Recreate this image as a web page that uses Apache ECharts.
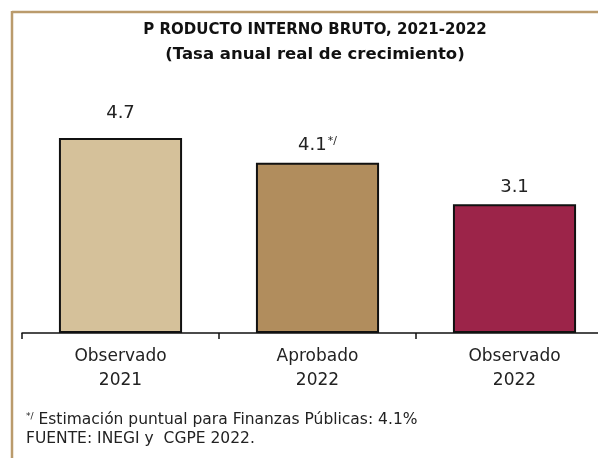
<!DOCTYPE html>
<html><head><meta charset="utf-8">
<script src="https://cdn.jsdelivr.net/npm/echarts@6/dist/echarts.min.js"></script>
<style>html,body{margin:0;padding:0;background:#fff}#c{width:598px;height:458px}</style>
</head><body><div id="c"></div>
<script>
var categories = ['Observado\n2021', 'Aprobado\n2022', 'Observado\n2022'];
var values = [4.7, 4.1, 3.1];
var valueLabels = ['4.7', '4.1', '3.1'];
var labelSuffix = ['', '*/', ''];
var barColors = ['#D5C19A', '#B18D5D', '#9C2449'];
var titleLines = ['P RODUCTO INTERNO BRUTO, 2021-2022', '(Tasa anual real de crecimiento)'];
var notes = ['Estimación puntual para Finanzas Públicas: 4.1%', 'FUENTE: INEGI y  CGPE 2022.'];

var chart = echarts.init(document.getElementById('c'));
var font = 'DejaVu Sans';
chart.setOption({
  animation: false,
  grid: {left: 22, top: 84, width: 591, height: 249, outerBoundsMode: 'none', containLabel: false},
  xAxis: {
    type: 'category', data: categories,
    axisLine: {lineStyle: {color: '#111', width: 1.5}},
    axisTick: {show: true, length: 6, lineStyle: {color: '#111', width: 1.5}},
    axisLabel: {fontFamily: font, fontSize: 17, color: '#222', lineHeight: 24, margin: 12}
  },
  yAxis: {type: 'value', min: 0, max: 6, show: false, splitLine: {show: false}},
  series: [{
    type: 'bar', barWidth: '62.5%',
    data: values.map(function (v, i) {
      return {
        value: v,
        itemStyle: {color: barColors[i], borderColor: '#111', borderWidth: 2},
        label: {
          show: true, position: 'top', distance: i === 0 ? 16 : 8,
          formatter: '{v|' + valueLabels[i] + '}' + (labelSuffix[i] ? '{s|' + labelSuffix[i] + '}' : ''),
          rich: {
            v: {fontFamily: font, fontSize: 18, color: '#222'},
            s: {fontFamily: font, fontSize: 11, color: '#222', verticalAlign: 'top', padding: [0, 0, 8, 1]}
          }
        }
      };
    })
  }],
  graphic: [
    {type: 'line', shape: {x1: 12, y1: 12, x2: 598, y2: 12}, style: {stroke: '#BA9B6C', lineWidth: 2.5}},
    {type: 'line', shape: {x1: 12, y1: 11, x2: 12, y2: 458}, style: {stroke: '#BA9B6C', lineWidth: 2.5}},
    {type: 'text', x: 315, y: 30, style: {
      text: titleLines[0], fill: '#111', font: 'bold 15px "DejaVu Sans"',
      textAlign: 'center', textVerticalAlign: 'middle'
    }},
    {type: 'text', x: 315, y: 55, style: {
      text: titleLines[1], fill: '#111', font: 'bold 16.5px "DejaVu Sans"',
      textAlign: 'center', textVerticalAlign: 'middle'
    }},
    {type: 'text', left: 26, top: 412, style: {
      text: '{s|*/} ' + notes[0], fill: '#222', font: '15.5px "DejaVu Sans"',
      rich: {s: {fontSize: 9, fontFamily: font, verticalAlign: 'top', padding: [0, 0, 7, 0]}}
    }},
    {type: 'text', left: 26, top: 431, style: {text: notes[1], fill: '#222', font: '15.5px "DejaVu Sans"'}}
  ]
});
</script></body></html>
